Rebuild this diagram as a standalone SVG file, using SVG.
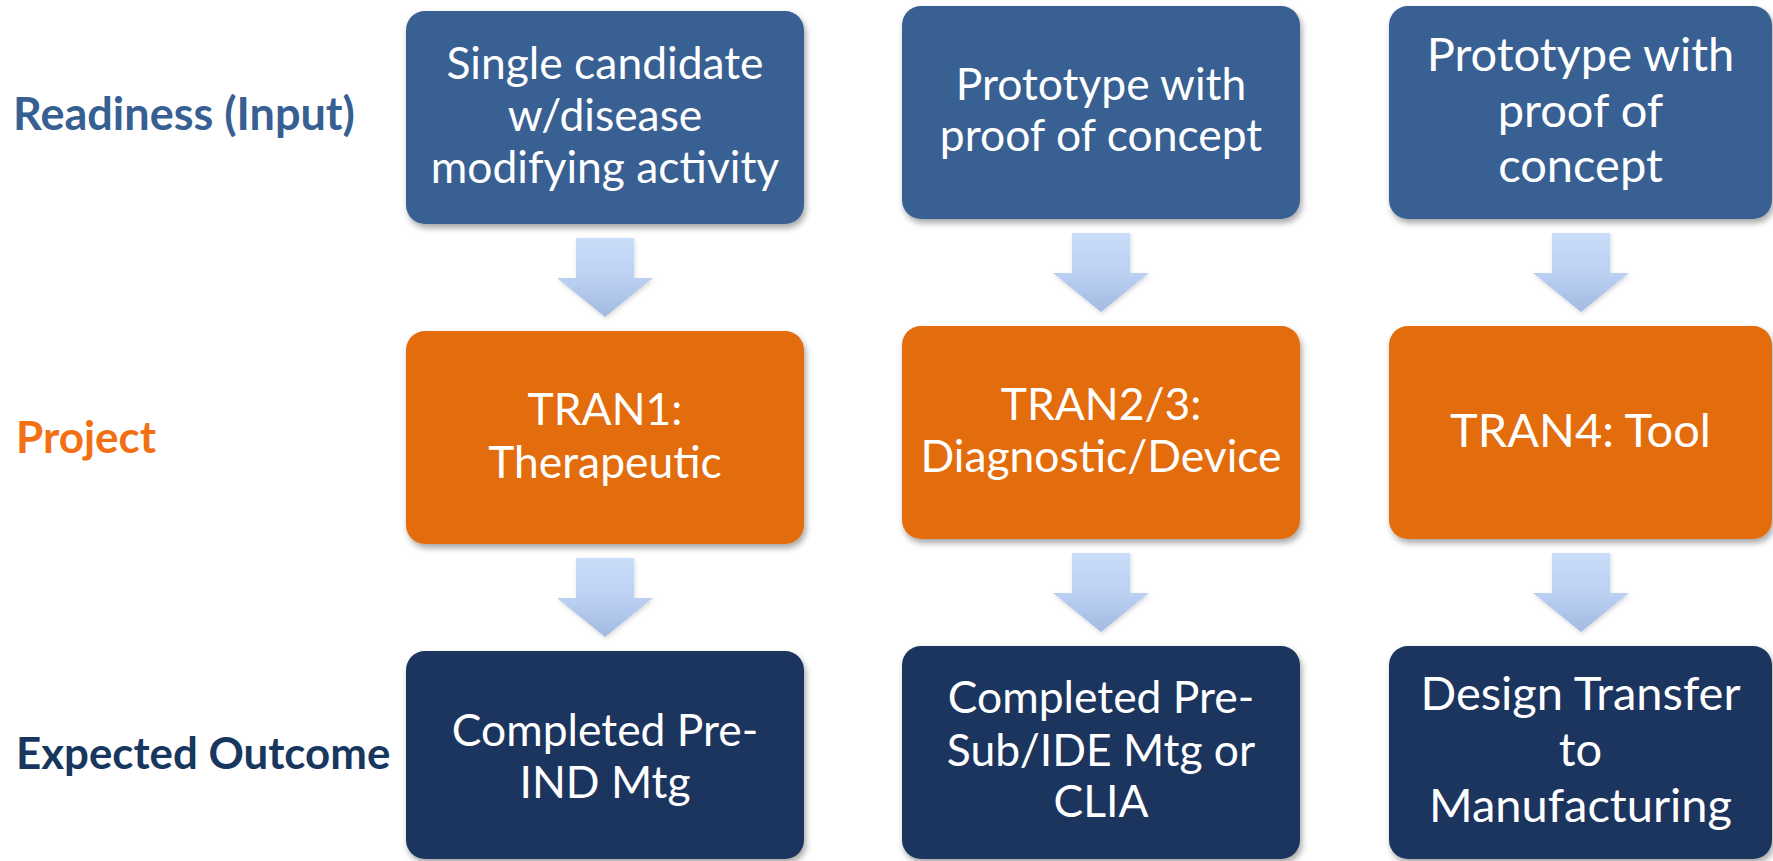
<svg xmlns="http://www.w3.org/2000/svg" width="1773" height="861" viewBox="0 0 1773 861">
<defs>
<filter id="shadow" x="-10%" y="-10%" width="125%" height="130%">
<feDropShadow dx="2" dy="4" stdDeviation="3" flood-color="#000" flood-opacity="0.35"/>
</filter>
<filter id="ashadow" x="-20%" y="-20%" width="150%" height="150%">
<feDropShadow dx="1" dy="2" stdDeviation="2" flood-color="#000" flood-opacity="0.15"/>
</filter>
<linearGradient id="agrad" x1="0" y1="0" x2="0" y2="1">
<stop offset="0" stop-color="#C9DDFA"/>
<stop offset="0.5" stop-color="#BCD1F2"/>
<stop offset="1" stop-color="#A2BAE2"/>
</linearGradient>
</defs>
<style>
.box{filter:url(#shadow);}
.in{fill:#386192;}
.pr{fill:#E36C0A;}
.out{fill:#1A355E;}
.t{font-family:Lato,"Liberation Sans",sans-serif;font-size:44.4px;fill:#FFFFFF;text-anchor:middle;}
.t3{font-size:47px;}
.lbl{font-family:Lato,"Liberation Sans",sans-serif;font-weight:bold;font-size:45px;}
.arrow{fill:url(#agrad);filter:url(#ashadow);}
</style>
<rect width="1773" height="861" fill="#FFFFFF"/>

<g id="label-readiness"><text class="lbl" x="13" y="130" fill="#376092">Readiness (Input)</text></g>
<g id="label-project"><text class="lbl" x="16" y="453" fill="#F27013" style="font-size:44px">Project</text></g>
<g id="label-outcome"><text class="lbl" x="16" y="769" fill="#17375E" style="font-size:43.8px">Expected Outcome</text></g>

<g id="connectors">
<path class="arrow" d="M576 238 H634 V278 H653 L605 317 L557 278 H576 Z"/>
<path class="arrow" d="M576 558 H634 V598 H653 L605 637 L557 598 H576 Z"/>
<path class="arrow" d="M1072 233 H1130 V273 H1149 L1101 312 L1053 273 H1072 Z"/>
<path class="arrow" d="M1072 553 H1130 V593 H1149 L1101 632 L1053 593 H1072 Z"/>
<path class="arrow" d="M1552 233 H1610 V273 H1629 L1581 312 L1533 273 H1552 Z"/>
<path class="arrow" d="M1552 553 H1610 V593 H1629 L1581 632 L1533 593 H1552 Z"/>
</g>

<g id="in1"><rect class="box in" x="406" y="11" width="398" height="213" rx="19"/>
<text class="t" x="605" y="79">Single candidate</text>
<text class="t" x="605" y="131">w/disease</text>
<text class="t" x="605" y="183">modifying activity</text></g>

<g id="in2"><rect class="box in" x="902" y="6" width="398" height="213" rx="19"/>
<text class="t" x="1101" y="100">Prototype with</text>
<text class="t" x="1101" y="151">proof of concept</text></g>

<g id="in3"><rect class="box in" x="1389" y="6" width="383" height="213" rx="19"/>
<text class="t t3" x="1580.5" y="71">Prototype with</text>
<text class="t t3" x="1580.5" y="126.5">proof of</text>
<text class="t t3" x="1580.5" y="182">concept</text></g>

<g id="pr1"><rect class="box pr" x="406" y="331" width="398" height="213" rx="19"/>
<text class="t" x="605" y="425">TRAN1:</text>
<text class="t" x="605" y="477.5">Therapeutic</text></g>

<g id="pr2"><rect class="box pr" x="902" y="326" width="398" height="213" rx="19"/>
<text class="t" x="1101" y="420">TRAN2/3:</text>
<text class="t" x="1101" y="472">Diagnostic/Device</text></g>

<g id="pr3"><rect class="box pr" x="1389" y="326" width="383" height="213" rx="19"/>
<text class="t t3" x="1580.5" y="446.5">TRAN4: Tool</text></g>

<g id="out1"><rect class="box out" x="406" y="651" width="398" height="208" rx="19"/>
<text class="t" x="605" y="745.5">Completed Pre-</text>
<text class="t" x="605" y="797.5">IND Mtg</text></g>

<g id="out2"><rect class="box out" x="902" y="646" width="398" height="213" rx="19"/>
<text class="t" x="1101" y="713">Completed Pre-</text>
<text class="t" x="1101" y="765.5">Sub/IDE Mtg or</text>
<text class="t" x="1101" y="817">CLIA</text></g>

<g id="out3"><rect class="box out" x="1389" y="646" width="383" height="213" rx="19"/>
<text class="t t3" x="1580.5" y="710">Design Transfer</text>
<text class="t t3" x="1580.5" y="766">to</text>
<text class="t t3" x="1580.5" y="822">Manufacturing</text></g>
</svg>
